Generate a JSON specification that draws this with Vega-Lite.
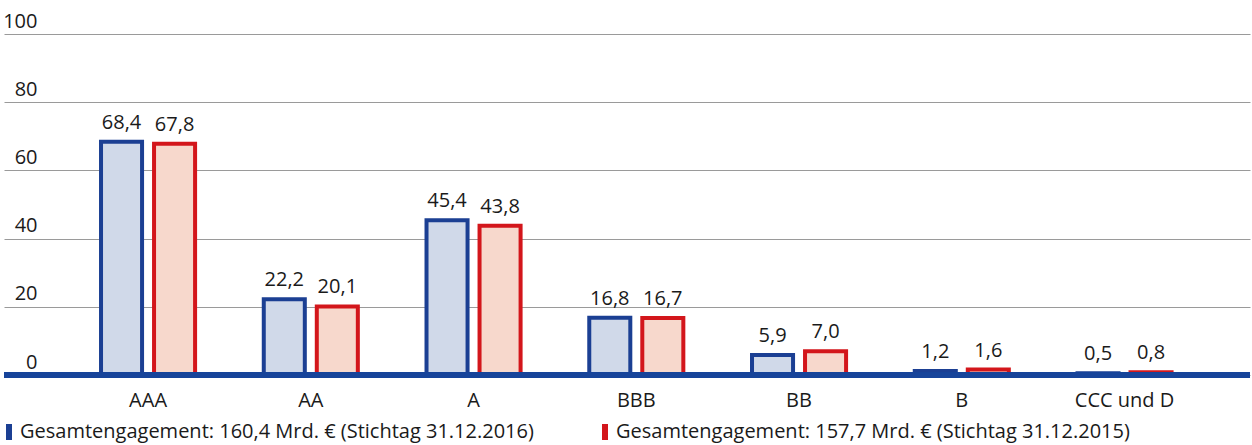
{
  "$schema": "https://vega.github.io/schema/vega-lite/v6.json",
  "width": 1246,
  "height": 341,
  "autosize": {"type": "none"},
  "padding": {"left": 4, "top": 34, "right": 2, "bottom": 70},
  "background": "white",
  "data": {"values": [
    {"rating": "AAA", "series": "Gesamtengagement: 160,4 Mrd. € (Stichtag 31.12.2016)", "value": 68.4},
    {"rating": "AAA", "series": "Gesamtengagement: 157,7 Mrd. € (Stichtag 31.12.2015)", "value": 67.8},
    {"rating": "AA", "series": "Gesamtengagement: 160,4 Mrd. € (Stichtag 31.12.2016)", "value": 22.2},
    {"rating": "AA", "series": "Gesamtengagement: 157,7 Mrd. € (Stichtag 31.12.2015)", "value": 20.1},
    {"rating": "A", "series": "Gesamtengagement: 160,4 Mrd. € (Stichtag 31.12.2016)", "value": 45.4},
    {"rating": "A", "series": "Gesamtengagement: 157,7 Mrd. € (Stichtag 31.12.2015)", "value": 43.8},
    {"rating": "BBB", "series": "Gesamtengagement: 160,4 Mrd. € (Stichtag 31.12.2016)", "value": 16.8},
    {"rating": "BBB", "series": "Gesamtengagement: 157,7 Mrd. € (Stichtag 31.12.2015)", "value": 16.7},
    {"rating": "BB", "series": "Gesamtengagement: 160,4 Mrd. € (Stichtag 31.12.2016)", "value": 5.9},
    {"rating": "BB", "series": "Gesamtengagement: 157,7 Mrd. € (Stichtag 31.12.2015)", "value": 7.0},
    {"rating": "B", "series": "Gesamtengagement: 160,4 Mrd. € (Stichtag 31.12.2016)", "value": 1.2},
    {"rating": "B", "series": "Gesamtengagement: 157,7 Mrd. € (Stichtag 31.12.2015)", "value": 1.6},
    {"rating": "CCC und D", "series": "Gesamtengagement: 160,4 Mrd. € (Stichtag 31.12.2016)", "value": 0.5},
    {"rating": "CCC und D", "series": "Gesamtengagement: 157,7 Mrd. € (Stichtag 31.12.2015)", "value": 0.8}
  ]},
  "layer": [
    {
      "mark": {"type": "bar", "strokeWidth": 4},
      "encoding": {
        "x": {
          "field": "rating", "type": "nominal", "sort": null,
          "scale": {"paddingInner": 0.422, "paddingOuter": 0.539, "align": 0.553},
          "axis": {"title": null, "domain": false, "ticks": false, "labelAngle": 0, "labelFontSize": 20, "labelPadding": 15, "labelBaseline": "top", "labelColor": "#1a1a1a", "labelFont": "Open Sans"}
        },
        "xOffset": {
          "field": "series", "type": "nominal",
          "sort": ["Gesamtengagement: 160,4 Mrd. € (Stichtag 31.12.2016)", "Gesamtengagement: 157,7 Mrd. € (Stichtag 31.12.2015)"],
          "scale": {"paddingInner": 0.226, "paddingOuter": 0}
        },
        "y": {
          "field": "value", "type": "quantitative",
          "scale": {"domain": [0, 100], "nice": false},
          "axis": {"title": null, "domain": false, "ticks": false, "values": [0, 20, 40, 60, 80, 100], "grid": true, "gridColor": "#9a9a9a", "gridWidth": 1, "labelAlign": "right", "labelPadding": -33, "labelBaseline": "alphabetic", "labelOffset": -7, "labelFontSize": 20, "labelColor": "#1a1a1a", "labelFont": "Open Sans"}
        },
        "fill": {"field": "series", "type": "nominal",
          "scale": {"domain": ["Gesamtengagement: 160,4 Mrd. € (Stichtag 31.12.2016)", "Gesamtengagement: 157,7 Mrd. € (Stichtag 31.12.2015)"], "range": ["#d0d9e9", "#f7d8cc"]},
          "legend": {"title": null, "orient": "none", "legendX": -6, "legendY": 387, "padding": 0, "direction": "horizontal", "symbolType": "M0,-1L0,1", "symbolSize": 256, "symbolStrokeWidth": 6, "labelFontSize": 20, "labelFont": "Open Sans", "labelColor": "#1a1a1a", "labelLimit": 700, "labelOffset": 0, "columnPadding": 59}},
        "stroke": {"field": "series", "type": "nominal",
          "scale": {"domain": ["Gesamtengagement: 160,4 Mrd. € (Stichtag 31.12.2016)", "Gesamtengagement: 157,7 Mrd. € (Stichtag 31.12.2015)"], "range": ["#1b3f93", "#d3161b"]},
          "legend": {"title": null, "orient": "none", "legendX": -6, "legendY": 387, "padding": 0, "direction": "horizontal", "symbolType": "M0,-1L0,1", "symbolSize": 256, "symbolStrokeWidth": 6, "labelFontSize": 20, "labelFont": "Open Sans", "labelColor": "#1a1a1a", "labelLimit": 700, "labelOffset": 0, "columnPadding": 59}
        }
      }
    },
    {
      "mark": {"type": "text", "baseline": "alphabetic", "dy": -13, "fontSize": 20, "font": "Open Sans", "color": "#1a1a1a"},
      "encoding": {
        "x": {"field": "rating", "type": "nominal", "sort": null},
        "xOffset": {"field": "series", "type": "nominal", "sort": ["Gesamtengagement: 160,4 Mrd. € (Stichtag 31.12.2016)", "Gesamtengagement: 157,7 Mrd. € (Stichtag 31.12.2015)"]},
        "y": {"field": "value", "type": "quantitative"},
        "text": {"field": "value", "type": "quantitative", "format": ".1f"}
      }
    },
    {
      "mark": {"type": "rule", "color": "#17449a", "strokeWidth": 5},
      "encoding": {"y": {"datum": 0}}
    }
  ],
  "config": {
    "view": {"stroke": null},
    "locale": {"number": {"decimal": ",", "thousands": ".", "grouping": [3], "currency": ["", " €"]}}
  }
}
